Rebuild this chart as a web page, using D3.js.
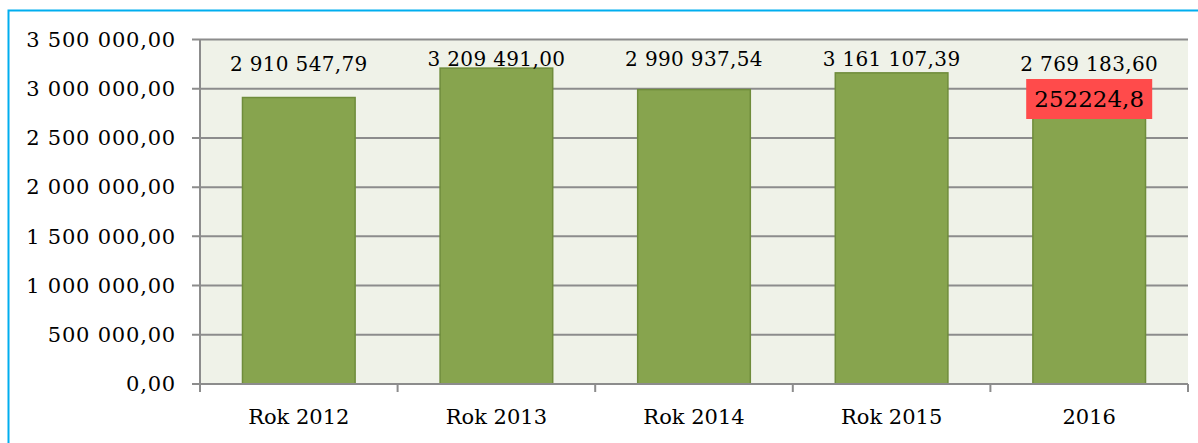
<!DOCTYPE html>
<html>
<head>
<meta charset="utf-8">
<script src="https://cdn.jsdelivr.net/npm/d3@7"></script>
<style>
  body { margin: 0; background: #fff; }
  text { font-family: "DejaVu Serif", Georgia, serif; fill: #000; }
</style>
</head>
<body>
<svg id="chart" width="1198" height="443"></svg>
<script>
// Dane
const lata = ["Rok 2012", "Rok 2013", "Rok 2014", "Rok 2015", "2016"]
const wartosci = [2910547.79, 3209491.00, 2990937.54, 3161107.39, 2769183.60]
const etykiety = ["2 910 547,79", "3 209 491,00", "2 990 937,54", "3 161 107,39", "2 769 183,60"]
const yTicks = [0, 500000, 1000000, 1500000, 2000000, 2500000, 3000000, 3500000]
const adnotacja = { kategoria: "2016", tekst: "252224,8" }

const svg = d3.select('#chart')

// ramka
svg.append('rect')
    .attr('x', 8.5).attr('y', 10.5)
    .attr('width', 1300).attr('height', 600)
    .attr('fill', 'none')
    .attr('stroke', '#00aeef')
    .attr('stroke-width', 2)

const mLeft = 200, mRight = 1188, mTop = 39.5, mBottom = 384

const x = d3.scaleBand()
    .domain(lata)
    .range([mLeft, mRight])
    .paddingInner(0.43)
    .paddingOuter(0.215)

const y = d3.scaleLinear()
    .domain([0, 3500000])
    .range([mBottom, mTop])

// tlo
svg.append('rect')
    .attr('x', mLeft).attr('y', mTop)
    .attr('width', mRight - mLeft).attr('height', mBottom - mTop)
    .attr('fill', '#eff2e8')

// siatka
svg.append('g')
    .selectAll('line')
    .data(yTicks)
    .join('line')
    .attr('x1', mLeft - 8).attr('x2', mRight)
    .attr('y1', d => y(d)).attr('y2', d => y(d))
    .attr('stroke', '#8c8c8c')
    .attr('stroke-width', 2)

// os Y
const fmt = v => d3.format(',.2f')(v).replace(/,/g, ' ').replace('.', ',')
svg.append('g')
    .selectAll('text')
    .data(yTicks)
    .join('text')
    .attr('x', 176)
    .attr('y', d => y(d))
    .attr('dy', '0.35em')
    .attr('text-anchor', 'end')
    .attr('font-size', '21px')
    .attr('letter-spacing', '0.8px')
    .text(d => fmt(d))

svg.append('line')
    .attr('x1', mLeft).attr('x2', mLeft)
    .attr('y1', mTop).attr('y2', mBottom + 8)
    .attr('stroke', '#8c8c8c').attr('stroke-width', 2)

// slupki
svg.append('g')
    .selectAll('rect')
    .data(lata)
    .join('rect')
    .attr('x', d => x(d))
    .attr('width', x.bandwidth())
    .attr('y', (d, i) => y(wartosci[i]))
    .attr('height', (d, i) => mBottom - y(wartosci[i]))
    .attr('fill', '#87a44e')
    .attr('stroke', '#6f8c3b')
    .attr('stroke-width', 1.5)

// os X
const granice = d3.range(lata.length + 1).map(i => mLeft + i * (mRight - mLeft) / lata.length)
svg.append('line')
    .attr('x1', mLeft - 8).attr('x2', mRight)
    .attr('y1', mBottom).attr('y2', mBottom)
    .attr('stroke', '#8c8c8c').attr('stroke-width', 2)
svg.append('g')
    .selectAll('line')
    .data(granice)
    .join('line')
    .attr('x1', d => d).attr('x2', d => d)
    .attr('y1', mBottom).attr('y2', mBottom + 8)
    .attr('stroke', '#8c8c8c').attr('stroke-width', 2)

svg.append('g')
    .selectAll('text')
    .data(lata)
    .join('text')
    .attr('x', d => x(d) + x.bandwidth() / 2)
    .attr('y', 424)
    .attr('text-anchor', 'middle')
    .attr('font-size', '21px')
    .text(d => d)

// etykiety wartosci
svg.append('g')
    .selectAll('text')
    .data(lata)
    .join('text')
    .attr('x', d => x(d) + x.bandwidth() / 2)
    .attr('y', (d, i) => Math.min(Math.max(y(wartosci[i]) - 27, 66), 71))
    .attr('text-anchor', 'middle')
    .attr('font-size', '20px')
    .attr('letter-spacing', '0.35px')
    .text((d, i) => etykiety[i])

// adnotacja
const ax = x(adnotacja.kategoria) + x.bandwidth() / 2
svg.append('rect')
    .attr('x', ax - 63).attr('y', 79)
    .attr('width', 126).attr('height', 40)
    .attr('fill', '#ff4b4b')
svg.append('text')
    .attr('x', ax).attr('y', 107)
    .attr('text-anchor', 'middle')
    .attr('font-size', '23px')
    .text(adnotacja.tekst)
</script>
</body>
</html>
